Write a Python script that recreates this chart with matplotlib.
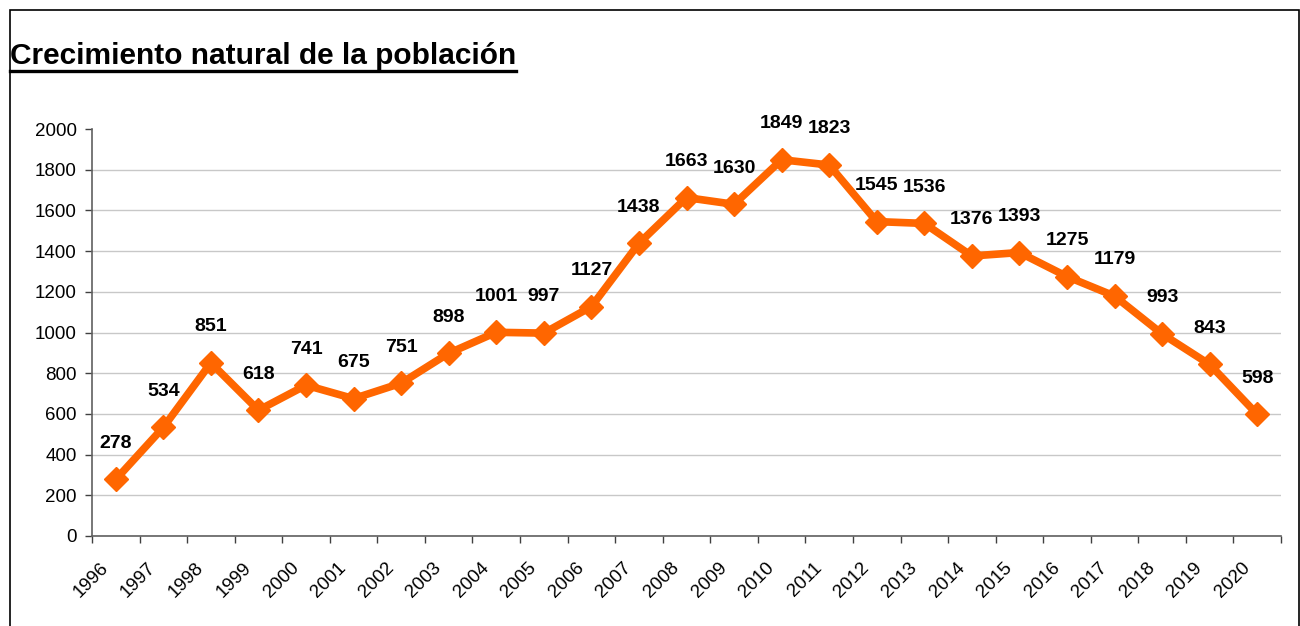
import matplotlib
matplotlib.use("Agg")
import matplotlib.pyplot as plt
import matplotlib.patches as patches
from matplotlib.transforms import ScaledTranslation
import numpy as np

# --- data ---
years = [str(y) for y in range(1996, 2021)]
values = [278, 534, 851, 618, 741, 675, 751, 898, 1001, 997, 1127, 1438, 1663,
          1630, 1849, 1823, 1545, 1536, 1376, 1393, 1275, 1179, 993, 843, 598]
y_ticks = list(range(0, 2001, 200))

plt.rcParams['font.family'] = ['Liberation Sans', 'DejaVu Sans']

W, H = 1300, 626
fig = plt.figure(figsize=(W / 100, H / 100), dpi=100)

# frame around the whole chart (right/bottom edges run off the picture)
border = patches.Rectangle((10 / W, -0.05), (1299 - 10) / W, 1.05 - 10 / H,
                           transform=fig.transFigure, fill=False,
                           edgecolor='black', linewidth=1.2)
fig.patches.append(border)

# title, bold and underlined
title = fig.text(10 / W, 1 - 56 / H, "Crecimiento natural de la población",
                 fontsize=21.5, fontweight='bold', ha='left', va='center')
fig.canvas.draw()
bb = title.get_window_extent()
uy = (bb.y0 - 1) / H
fig.add_artist(plt.Line2D([bb.x0 / W, bb.x1 / W], [uy, uy],
                          transform=fig.transFigure, color='black', linewidth=2.4))

ax = fig.add_axes([92 / W, 90 / H, (1281 - 92) / W, (536 - 129) / H])

x = np.arange(len(values)) + 0.5
ax.plot(x, values, color='#FF6600', linewidth=5.5, marker='D', markersize=12,
        markerfacecolor='#FF6600', markeredgecolor='#FF6600', zorder=3,
        clip_on=False)

for xi, v in zip(x, values):
    ax.annotate(str(v), (xi, v), xytext=(0, 26), textcoords='offset points',
                ha='center', va='center', fontsize=14, fontweight='bold')

ax.set_xlim(0, len(values))
ax.set_ylim(0, 2000)
ax.set_yticks(y_ticks)
ax.tick_params(axis='y', labelsize=13.5, length=5, width=1, color='#404040', pad=6)

# category boundaries carry the tick marks, labels sit at the centres
ax.set_xticks(np.arange(len(values) + 1))
ax.set_xticklabels([])
ax.tick_params(axis='x', which='major', length=5, width=1, color='#404040')
ax.set_xticks(x, minor=True)
ax.set_xticklabels(years, minor=True, rotation=45, ha='right', va='center',
                   rotation_mode='anchor', fontsize=13.5)
ax.tick_params(axis='x', which='minor', length=0, pad=21)
shift = ScaledTranslation(-10 / 100, 0, fig.dpi_scale_trans)
for lbl in ax.get_xticklabels(minor=True):
    lbl.set_transform(lbl.get_transform() + shift)

ax.yaxis.grid(True, color='#c8c8c8', linewidth=1)
ax.get_ygridlines()[-1].set_visible(False)
ax.set_axisbelow(True)

for s in ['top', 'right']:
    ax.spines[s].set_visible(False)
for s in ['left', 'bottom']:
    ax.spines[s].set_color('#606060')
    ax.spines[s].set_linewidth(1.2)

fig.savefig("out.png", dpi=100)
